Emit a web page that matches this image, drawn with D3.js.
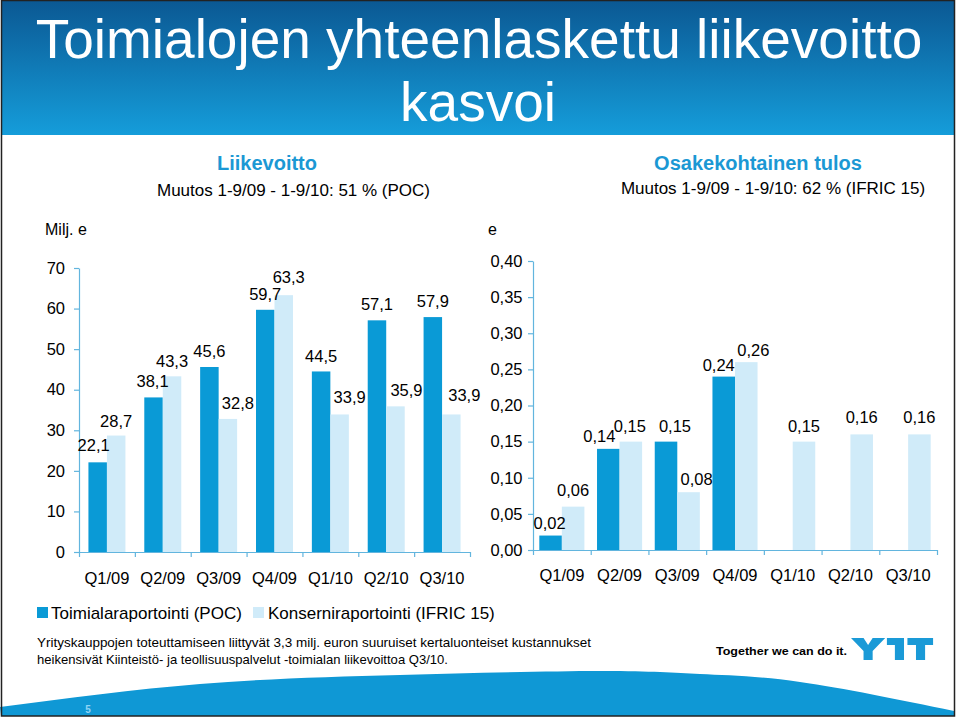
<!DOCTYPE html>
<html><head><meta charset="utf-8">
<script src="https://cdn.jsdelivr.net/npm/d3@7"></script>
<style>body{margin:0;background:#fff}svg{display:block}text{font-family:"Liberation Sans",Arial,Helvetica,sans-serif}</style>
</head><body><svg id="c" width="959" height="718"></svg>
<script>
// ---------- DATA ----------
const categories = ["Q1/09","Q2/09","Q3/09","Q4/09","Q1/10","Q2/10","Q3/10"];
const seriesNames = ["Toimialaraportointi (POC)","Konserniraportointi (IFRIC 15)"];
const opPOC   = [22.1,38.1,45.6,59.7,44.5,57.1,57.9];
const opIFRIC = [28.7,43.3,32.8,63.3,33.9,35.9,33.9];
const epsPOC   = [0.02,0.14,0.15,0.24,null,null,null];
const epsIFRIC = [0.06,0.15,0.08,0.26,0.15,0.16,0.16];
const opTicks  = [0,10,20,30,40,50,60,70];
const epsTicks = [0,0.05,0.10,0.15,0.20,0.25,0.30,0.35,0.40];

// ---------- LAYOUT (label nudges, px) ----------
const opNudge = [
  {dx:[-4,-1,0,0,0,0,0], dy:[2,1,1,1,0,1,1]},
  {dx:[0,0,10,5,10,11,13], dy:[0,0,1,3,2,1,4]}
];
const epsNudge = [
  {dx:[-1,-9,9,-5,0,0,0], dy:[-2,-2,1,-3,0,0,0]},
  {dx:[0,-1,8,7,0,0,0], dy:[2,1,-2,-3,1,2,2]}
];

const colors = ["#0a9ad6","#d0ebf9"];
const axisColor = "#62b5de";
const svg = d3.select("#c");
const loc = d3.formatLocale({decimal:",",thousands:" ",grouping:[3],currency:["","€"]});

// ---------- HEADER ----------
const defs = svg.append("defs");
const gr = defs.append("linearGradient").attr("id","hg").attr("x1",0).attr("y1",0).attr("x2",0).attr("y2",1);
gr.append("stop").attr("offset","0%").attr("stop-color","#0b5893");
gr.append("stop").attr("offset","100%").attr("stop-color","#159dda");
svg.append("rect").attr("x",1).attr("y",0).attr("width",953).attr("height",135).attr("fill","url(#hg)");
svg.append("text").attr("x",479).attr("y",58).attr("text-anchor","middle").attr("font-size",55).attr("fill","#fff")
  .text("Toimialojen yhteenlaskettu liikevoitto");
svg.append("text").attr("x",478).attr("y",121).attr("text-anchor","middle").attr("font-size",55).attr("fill","#fff")
  .text("kasvoi");

// subtitles
svg.append("text").attr("x",267).attr("y",170).attr("text-anchor","middle").attr("font-size",20).attr("font-weight","bold")
  .attr("fill","#1b98d4").text("Liikevoitto");
svg.append("text").attr("x",293.5).attr("y",196).attr("text-anchor","middle").attr("font-size",17).attr("fill","#000")
  .text("Muutos 1-9/09 - 1-9/10: 51 % (POC)");
svg.append("text").attr("x",758).attr("y",170).attr("text-anchor","middle").attr("font-size",20).attr("font-weight","bold")
  .attr("fill","#1b98d4").text("Osakekohtainen tulos");
svg.append("text").attr("x",773).attr("y",194).attr("text-anchor","middle").attr("font-size",17).attr("fill","#000")
  .text("Muutos 1-9/09 - 1-9/10: 62 % (IFRIC 15)");

svg.append("text").attr("x",45).attr("y",235).attr("font-size",16).text("Milj. e");
svg.append("text").attr("x",488).attr("y",235).attr("font-size",16).text("e");

// ---------- CHART FUNCTION ----------
function chart(cfg){
  const g = svg.append("g");
  const gb = g.append("g"), gl = g.append("g");
  const x0 = d3.scaleBand().domain(categories).range(cfg.xr);
  const x1 = d3.scaleBand().domain([0,1]).range([0,x0.bandwidth()]).paddingOuter(cfg.po);
  const y = d3.scaleLinear().domain(cfg.yd).range(cfg.yr);
  const ya = g.append("g").attr("transform",`translate(${cfg.xr[0]},0)`)
    .call(d3.axisLeft(y).tickValues(cfg.ticks).tickSize(5).tickSizeOuter(0).tickPadding(cfg.tp).tickFormat(cfg.tf));
  const xb = d3.scaleLinear().domain([0,categories.length]).range(cfg.xr);
  const xa = g.append("g").attr("transform",`translate(0,${y(0)})`)
    .call(d3.axisBottom(xb).tickValues(d3.range(categories.length+1)).tickSize(5).tickSizeOuter(0).tickFormat(""));
  const xl = g.append("g").attr("transform",`translate(0,${y(0)})`)
    .call(d3.axisBottom(x0).tickSize(0).tickPadding(cfg.xp));
  xl.select(".domain").remove();
  [ya,xa,xl].forEach(a=>{
    a.attr("font-family",null).attr("font-size",null);
    a.selectAll("path,line").attr("stroke",axisColor).attr("stroke-width",1.2);
    a.selectAll("text").attr("fill","#000").attr("font-size",cfg.fs);
  });
  [cfg.s0,cfg.s1].forEach((arr,si)=>{
    const data = arr.map((v,i)=>({v,i})).filter(d=>d.v!=null);
    gb.selectAll(null).data(data).join("rect")
      .attr("x",d=>x0(categories[d.i])+x1(si)).attr("width",x1.bandwidth())
      .attr("y",d=>y(d.v)).attr("height",d=>y(0)-y(d.v)).attr("fill",colors[si]);
    gl.selectAll(null).data(data).join("text")
      .attr("x",d=>x0(categories[d.i])+x1(si)+x1.bandwidth()/2+cfg.nudge[si].dx[d.i])
      .attr("y",d=>y(d.v)-9-cfg.nudge[si].dy[d.i])
      .attr("text-anchor","middle").attr("font-size",16.5).attr("fill","#000")
      .text(d=>cfg.lf(d.v));
  });
  g.node().appendChild(gl.node());
}

chart({xr:[79,470], yd:[0,70], yr:[552,268], po:0.51, s0:opPOC, s1:opIFRIC, ticks:opTicks,
  tf:d3.format("d"), lf:loc.format(".1f"), tp:9, xp:20.6, fs:16.5, nudge:opNudge});
chart({xr:[533,937], yd:[0,0.40], yr:[550,261], po:0.28, s0:epsPOC, s1:epsIFRIC, ticks:epsTicks,
  tf:loc.format(".2f"), lf:loc.format(".2f"), tp:5.5, xp:19.3, fs:16.5, nudge:epsNudge});

// ---------- LEGEND ----------
const leg = [{x:37,tx:51},{x:253,tx:268}];
seriesNames.forEach((n,i)=>{
  svg.append("rect").attr("x",leg[i].x).attr("y",607).attr("width",11).attr("height",11).attr("fill",colors[i]);
  svg.append("text").attr("x",leg[i].tx).attr("y",619).attr("font-size",17).text(n);
});

// ---------- FOOTNOTE ----------
svg.append("text").attr("x",37).attr("y",647).attr("font-size",13.5)
  .attr("textLength",554).attr("lengthAdjust","spacingAndGlyphs")
  .text("Yrityskauppojen toteuttamiseen liittyvät 3,3 milj. euron suuruiset kertaluonteiset kustannukset");
svg.append("text").attr("x",37).attr("y",664).attr("font-size",13.5)
  .attr("textLength",411).attr("lengthAdjust","spacingAndGlyphs")
  .text("heikensivät Kiinteistö- ja teollisuuspalvelut -toimialan liikevoittoa Q3/10.");

// ---------- WAVE ----------
const wavePts = [[0,707],[200,684],[400,675],[600,671],[700,674],[800,682],[954,711]];
const waveTop = d3.line().curve(d3.curveNatural)(wavePts);
svg.append("path").attr("d", waveTop + "L954,716L1,716Z").attr("fill","#0f98d5");
svg.append("text").attr("x",88).attr("y",713).attr("text-anchor","middle").attr("font-size",10).attr("font-weight","bold")
  .attr("fill","#8fd4f5").text("5");

// ---------- LOGO ----------
svg.append("text").attr("x",716).attr("y",655).attr("font-size",11).attr("font-weight","bold")
  .attr("textLength",131).attr("lengthAdjust","spacingAndGlyphs").text("Together we can do it.");
const lg = svg.append("g").attr("transform","translate(851,638) scale(1.14,1)").attr("fill","#1a9ad7");
lg.append("path").attr("d","M0,0 L11,0 L15,7 L19,0 L30,0 L19,13 L19,22 L11,22 L11,13 Z");
lg.append("path").attr("d","M31.5,0 L46.5,0 L46.5,22 L38.5,22 L38.5,7 L31.5,7 Z");
lg.append("path").attr("d","M49.5,0 L72,0 L72,7 L65,7 L65,22 L57,22 L57,7 L49.5,7 Z");

// ---------- FRAME ----------
svg.append("rect").attr("x",1.5).attr("y",0.5).attr("width",953).attr("height",715.5)
  .attr("fill","none").attr("stroke","#222").attr("stroke-width",1.5);
</script></body></html>
